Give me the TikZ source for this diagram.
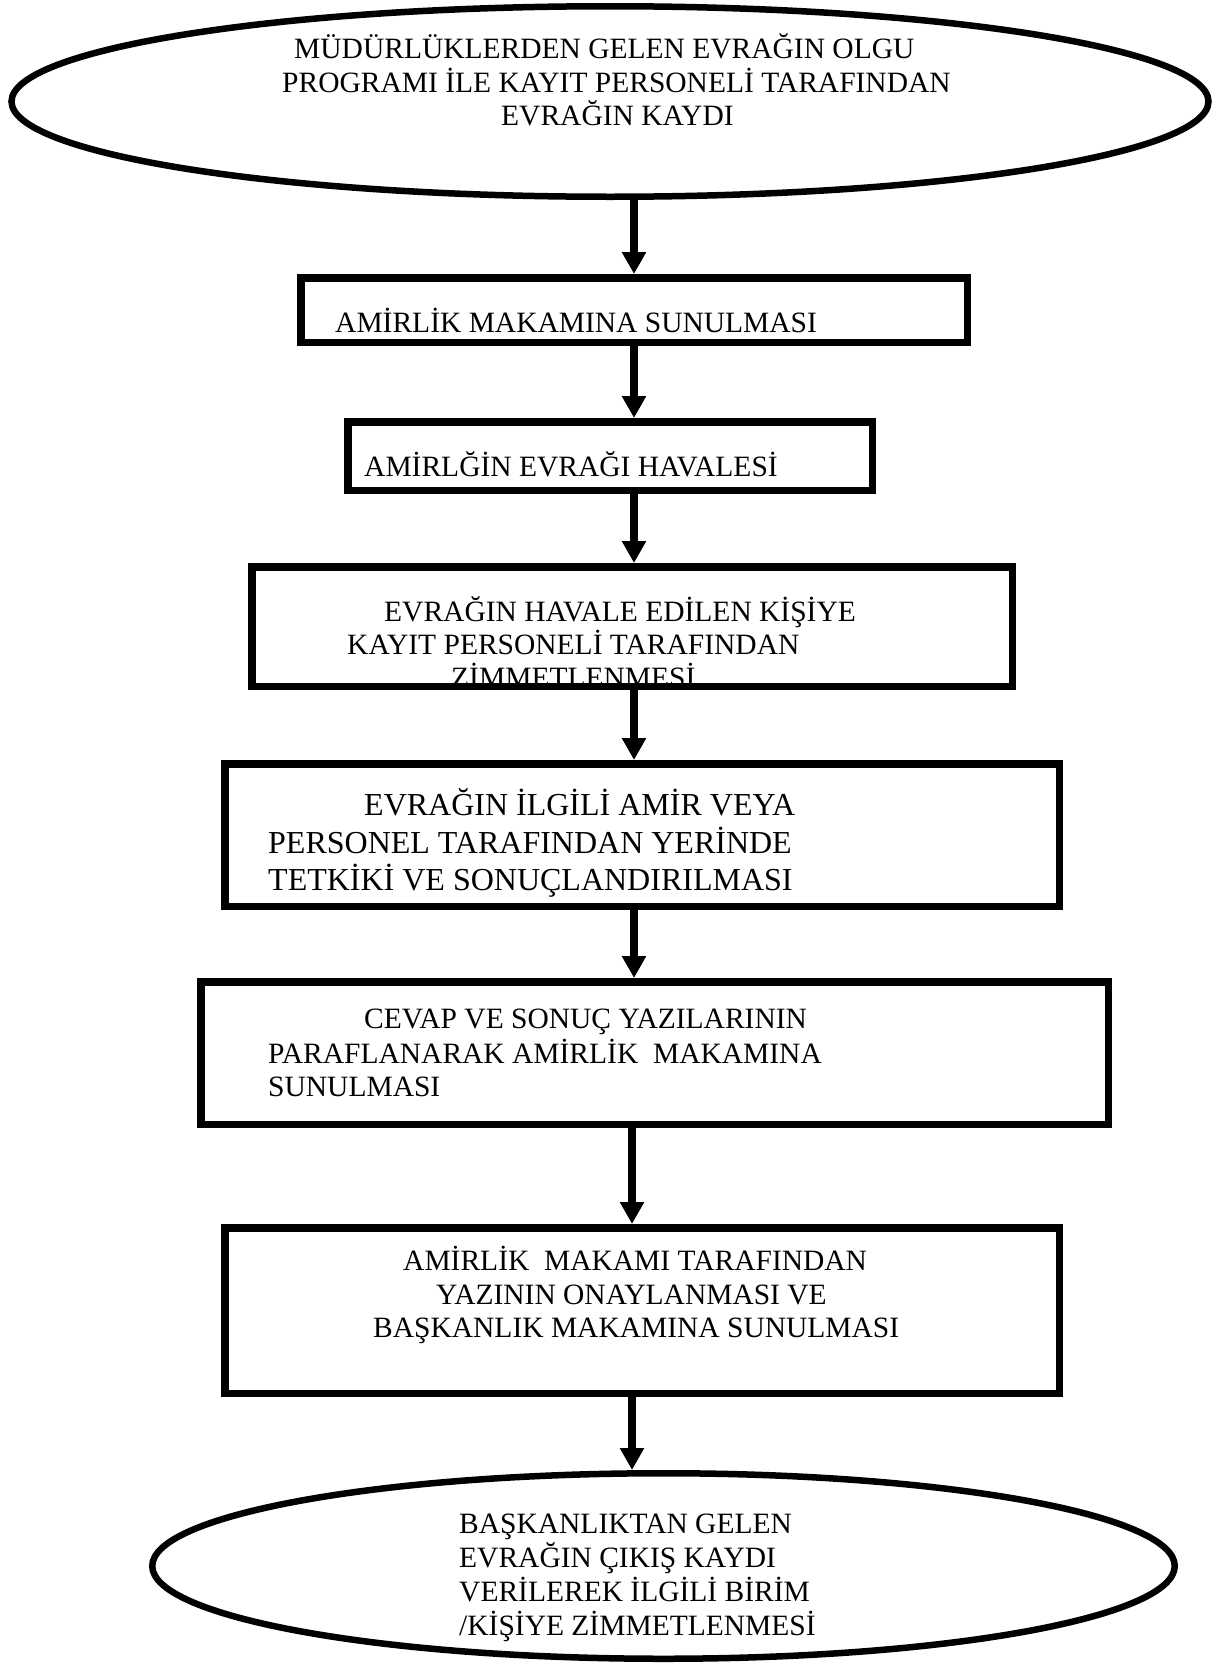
\documentclass[tikz,border=0pt]{standalone}
\usepackage{fontspec}
\setmainfont{Liberation Serif}
\usetikzlibrary{shapes.geometric,arrows.meta}
\begin{document}
\begin{tikzpicture}[x=1pt,y=-1pt,
  box/.style={draw,line width=7.5pt,rectangle,inner sep=0pt},
  oval/.style={draw,line width=6.5pt,ellipse,inner sep=0pt},
  txt/.style={anchor=base west,inner sep=0pt,font=\fontsize{29.5}{34}\selectfont},
  bigtxt/.style={txt,font=\fontsize{32}{37}\selectfont},
  arr/.style={line width=8pt,-{Triangle[width=23pt,length=22pt]}}]
\useasboundingbox (0,0) rectangle (1221,1665);
% texts
\node[txt] (t1a) at (294,58) {MÜDÜRLÜKLERDEN GELEN EVRAĞIN OLGU};
\node[txt] (t1b) at (282,92) {PROGRAMI İLE KAYIT PERSONELİ TARAFINDAN};
\node[txt] (t1c) at (501,125) {EVRAĞIN KAYDI};
\node[txt] (t2) at (335,332) {AMİRLİK MAKAMINA SUNULMASI};
\node[txt] (t3) at (364,476) {AMİRLĞİN EVRAĞI HAVALESİ};
\node[txt] (t4a) at (384,621) {EVRAĞIN HAVALE EDİLEN KİŞİYE};
\node[txt] (t4b) at (347,654) {KAYIT PERSONELİ TARAFINDAN};
\node[txt] (t4c) at (451,687) {ZİMMETLENMESİ};
\node[bigtxt] (t5a) at (364,815) {EVRAĞIN İLGİLİ AMİR VEYA};
\node[bigtxt] (t5b) at (268,853) {PERSONEL TARAFINDAN YERİNDE};
\node[bigtxt] (t5c) at (268,890) {TETKİKİ VE SONUÇLANDIRILMASI};
\node[txt] (t6a) at (364,1028) {CEVAP VE SONUÇ YAZILARININ};
\node[txt] (t6b) at (268,1063) {PARAFLANARAK AMİRLİK~ MAKAMINA};
\node[txt] (t6c) at (268,1096) {SUNULMASI};
\node[txt] (t7a) at (403,1270) {AMİRLİK~ MAKAMI TARAFINDAN};
\node[txt] (t7b) at (436,1304) {YAZININ ONAYLANMASI VE};
\node[txt] (t7c) at (373,1337) {BAŞKANLIK MAKAMINA SUNULMASI};
\node[txt] (t8a) at (459,1533) {BAŞKANLIKTAN GELEN};
\node[txt] (t8b) at (459,1567) {EVRAĞIN ÇIKIŞ KAYDI};
\node[txt] (t8c) at (459,1601) {VERİLEREK İLGİLİ BİRİM};
\node[txt] (t8d) at (459,1635) {/KİŞİYE ZİMMETLENMESİ};
% shapes
\node[oval,minimum width=1197pt,minimum height=190.5pt] (e1) at (610,101.5) {};
\node[box,minimum width=666.5pt,minimum height=64.5pt] (b1) at (634,310) {};
\node[box,minimum width=524.5pt,minimum height=68.5pt] (b2) at (610,456) {};
\node[box,minimum width=760.5pt,minimum height=119.5pt] (b3) at (632,626.5) {};
\node[box,minimum width=834.5pt,minimum height=142.5pt] (b4) at (642,835) {};
\node[box,minimum width=907.5pt,minimum height=142.5pt] (b5) at (654.5,1053) {};
\node[box,minimum width=834.5pt,minimum height=165.5pt] (b6) at (642,1310.5) {};
\node[oval,minimum width=1022.5pt,minimum height=185.5pt] (e2) at (663.5,1566) {};
% connectors
\coordinate (ax) at (634,0);
\coordinate (bx) at (632,0);
\draw[arr] (e1.south -| ax) -- (b1.north -| ax);
\draw[arr] (b1.south -| ax) -- (b2.north -| ax);
\draw[arr] (b2.south -| ax) -- (b3.north -| ax);
\draw[arr] (b3.south -| ax) -- (b4.north -| ax);
\draw[arr] (b4.south -| ax) -- (b5.north -| ax);
\draw[arr] (b5.south -| bx) -- (b6.north -| bx);
\draw[arr] (b6.south -| bx) -- (e2.north -| bx);
\end{tikzpicture}
\end{document}
